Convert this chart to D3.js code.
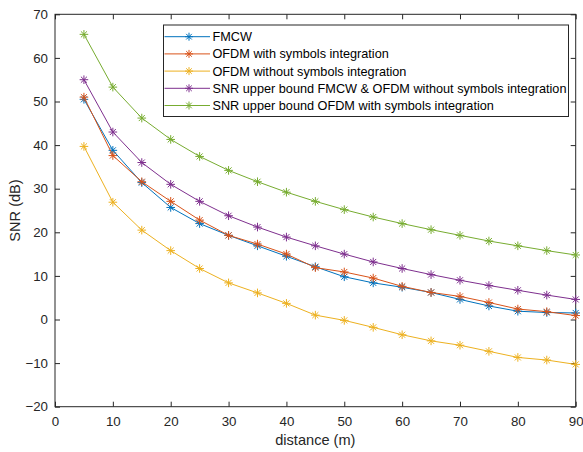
<!DOCTYPE html>
<html>
<head>
<meta charset="utf-8">
<script src="https://cdn.jsdelivr.net/npm/d3@7"></script>
<style>
  body { margin: 0; background: #fff; }
  svg { font-family: 'Liberation Sans', Arial, sans-serif; }
</style>
</head>
<body>
<div id="chart"></div>
<script>
const distances = [5, 10, 15, 20, 25, 30, 35, 40, 45, 50, 55, 60, 65, 70, 75, 80, 85, 90]

const fmcw = [50.5, 38.8, 31.4, 25.7, 22.0, 19.3, 16.9, 14.5, 12.1, 9.8, 8.4, 7.4, 6.2, 4.6, 3.1, 1.9, 1.6, 1.5]
const ofdmInt = [51.0, 37.6, 31.6, 27.1, 22.8, 19.3, 17.3, 15.0, 11.9, 10.9, 9.5, 7.6, 6.2, 5.3, 3.9, 2.4, 1.8, 0.9]
const ofdmNoInt = [39.7, 26.9, 20.5, 15.8, 11.7, 8.4, 6.1, 3.7, 1.0, -0.2, -1.8, -3.5, -4.9, -5.9, -7.3, -8.7, -9.3, -10.3]
const boundFmcw = [55.0, 43.0, 36.0, 31.0, 27.1, 23.8, 21.2, 18.9, 16.9, 15.0, 13.2, 11.7, 10.3, 9.0, 7.8, 6.7, 5.6, 4.6]
const boundOfdm = [65.4, 53.3, 46.2, 41.3, 37.4, 34.2, 31.6, 29.2, 27.1, 25.2, 23.5, 22.0, 20.6, 19.3, 18.0, 16.9, 15.8, 14.8]

const seriesNames = [
  'FMCW',
  'OFDM with symbols integration',
  'OFDM without symbols integration',
  'SNR upper bound FMCW & OFDM without symbols integration',
  'SNR upper bound OFDM with symbols integration'
]
const seriesValues = [fmcw, ofdmInt, ofdmNoInt, boundFmcw, boundOfdm]
const colors = ['#0072BD', '#D95319', '#EDB120', '#7E2F8E', '#77AC30']

const xTicks = [0, 10, 20, 30, 40, 50, 60, 70, 80, 90]
const yTicks = [-20, -10, 0, 10, 20, 30, 40, 50, 60, 70]

const margin = { top: 14.3, right: 7.3, bottom: 45.3, left: 55 }
const W = 583
const H = 452
const width = W - margin.left - margin.right
const height = H - margin.top - margin.bottom

const svg = d3
  .select('#chart')
  .append('svg')
  .attr('width', W)
  .attr('height', H)

const g = svg
  .append('g')
  .attr('transform', 'translate(' + margin.left + ',' + margin.top + ')')

const x = d3.scaleLinear().domain([0, 90]).range([0, width])
const y = d3.scaleLinear().domain([-20, 70]).range([height, 0])

const axisColor = '#262626'
const tickFont = 13.3

// axes with inward ticks, MATLAB-style box
function styleAxis(sel, showText) {
  sel.select('.domain').remove()
  sel.selectAll('.tick line').attr('stroke', axisColor)
  sel
    .selectAll('.tick text')
    .attr('fill', axisColor)
    .style('font-size', tickFont + 'px')
    .style('font-family', "'Liberation Sans', Arial, sans-serif")
  if (!showText) sel.selectAll('.tick text').remove()
}

g.append('g')
  .attr('transform', 'translate(0,' + height + ')')
  .call(d3.axisBottom(x).tickValues(xTicks).tickSize(-5).tickPadding(10))
  .call(s => styleAxis(s, true))

g.append('g')
  .call(d3.axisTop(x).tickValues(xTicks).tickSize(-5))
  .call(s => styleAxis(s, false))

g.append('g')
  .call(d3.axisLeft(y).tickValues(yTicks).tickSize(-5).tickPadding(7))
  .call(s => styleAxis(s, true))

g.append('g')
  .attr('transform', 'translate(' + width + ',0)')
  .call(d3.axisRight(y).tickValues(yTicks).tickSize(-5))
  .call(s => styleAxis(s, false))

g.append('rect')
  .attr('x', 0)
  .attr('y', 0)
  .attr('width', width)
  .attr('height', height)
  .attr('fill', 'none')
  .attr('stroke', axisColor)
  .attr('stroke-width', 1)

// asterisk marker
function asterisk(sel, r) {
  const d = 'M' + -r + ',0L' + r + ',0M0,' + -r + 'L0,' + r +
    'M' + -r * 0.7 + ',' + -r * 0.7 + 'L' + r * 0.7 + ',' + r * 0.7 +
    'M' + -r * 0.7 + ',' + r * 0.7 + 'L' + r * 0.7 + ',' + -r * 0.7
  sel.append('path').attr('d', d)
}

const line = d3
  .line()
  .x((d, i) => x(distances[i]))
  .y(d => y(d))

seriesValues.forEach((vals, k) => {
  const sg = g.append('g')
  sg.append('path')
    .datum(vals)
    .attr('d', line)
    .attr('fill', 'none')
    .attr('stroke', colors[k])
    .attr('stroke-width', 1)

  sg.selectAll('g.m')
    .data(vals)
    .enter()
    .append('g')
    .attr('class', 'm')
    .attr('transform', (d, i) => 'translate(' + x(distances[i]) + ',' + y(d) + ')')
    .attr('stroke', colors[k])
    .attr('stroke-width', 1)
    .each(function() { asterisk(d3.select(this), 4.3) })
})

// legend
const legend = svg.append('g').attr('transform', 'translate(163.5,25)')
legend.append('rect')
  .attr('width', 405)
  .attr('height', 91.5)
  .attr('fill', '#fff')
  .attr('stroke', axisColor)
  .attr('stroke-width', 1)

seriesNames.forEach((name, k) => {
  const ly = 11.7 + k * 17.2
  const item = legend.append('g').attr('transform', 'translate(0,' + ly + ')')
  item.append('line')
    .attr('x1', 1).attr('x2', 46.5)
    .attr('stroke', colors[k])
    .attr('stroke-width', 1)
  item.append('g')
    .attr('transform', 'translate(25.5,0)')
    .attr('stroke', colors[k])
    .call(s => asterisk(s, 4))
  item.append('text')
    .attr('x', 49)
    .attr('y', 4.5)
    .attr('fill', '#000')
    .style('font-size', '12.7px')
    .text(name)
})

// axis labels
svg.append('text')
  .attr('x', margin.left + width / 2)
  .attr('y', 445)
  .attr('text-anchor', 'middle')
  .attr('fill', axisColor)
  .style('font-size', '14.6px')
  .text('distance (m)')

svg.append('text')
  .attr('transform', 'translate(20,' + (margin.top + height / 2) + ') rotate(-90)')
  .attr('text-anchor', 'middle')
  .attr('fill', axisColor)
  .style('font-size', '14.6px')
  .text('SNR (dB)')
</script>
</body>
</html>
